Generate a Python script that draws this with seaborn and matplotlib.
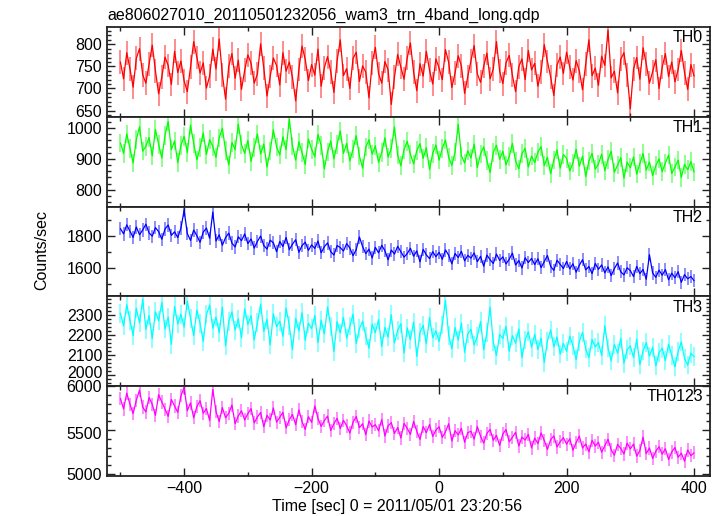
import numpy as np
import pandas as pd
import matplotlib
matplotlib.use("Agg")
import matplotlib.pyplot as plt
from matplotlib.ticker import MultipleLocator
from matplotlib.transforms import ScaledTranslation
import seaborn as sns

# Time bins (5 s) relative to 2011/05/01 23:20:56
time_sec = np.arange(-500, 405, 5)

# Light curves (counts/sec)
th0 = [760, 722, 781, 745, 703, 768, 790, 731, 712, 755,
       798, 740, 688, 726, 771, 752, 709, 784, 736, 762,
       717, 693, 748, 806, 770, 735, 758, 701, 728, 789,
       744, 812, 731, 676, 750, 779, 723, 764, 698, 741,
       776, 757, 712, 733, 801, 746, 683, 727, 769, 752,
       708, 781, 739, 760, 725, 672, 743, 796, 766, 718,
       754, 730, 789, 705, 747, 772, 738, 691, 763, 810,
       729, 745, 700, 768, 782, 716, 751, 737, 679, 758,
       793, 734, 712, 761, 742, 664, 726, 777, 748, 721,
       769, 803, 737, 695, 756, 728, 784, 741, 710, 767,
       746, 720, 788, 759, 702, 735, 774, 751, 689, 727,
       763, 797, 733, 714, 750, 780, 722, 744, 806, 739,
       711, 758, 775, 730, 693, 749, 767, 720, 786, 742,
       757, 705, 738, 799, 761, 726, 684, 753, 771, 734,
       782, 748, 719, 763, 740, 697, 755, 810, 729, 746,
       707, 773, 752, 832, 724, 739, 690, 766, 781, 731,
       654, 744, 770, 721, 792, 756, 712, 738, 765, 700,
       748, 779, 727, 760, 715, 743, 786, 736, 698, 754,
       728]
th1 = [952, 918, 981, 934, 887, 962, 1004, 925, 941, 969,
       910, 995, 947, 903, 976, 1021, 930, 958, 888, 944,
       973, 921, 1009, 950, 897, 936, 984, 914, 962, 940,
       905, 968, 999, 927, 881, 953, 930, 1012, 946, 918,
       960, 892, 937, 981, 916, 948, 874, 925, 994, 939,
       913, 971, 930, 1028, 942, 896, 955, 920, 882, 964,
       931, 907, 979, 944, 868, 923, 958, 900, 947, 990,
       918, 950, 893, 932, 975, 909, 870, 938, 962, 915,
       942, 889, 921, 968, 906, 934, 1003, 912, 878, 930,
       957, 915, 884, 927, 949, 902, 936, 866, 918, 945,
       896, 934, 961, 905, 879, 922, 1012, 910, 887, 926,
       903, 948, 872, 916, 939, 895, 856, 921, 944, 899,
       925, 881, 907, 950, 893, 868, 917, 934, 874, 909,
       888, 922, 940, 879, 905, 852, 896, 929, 870, 914,
       902, 861, 887, 931, 876, 909, 843, 893, 918, 867,
       884, 915, 862, 898, 925, 857, 880, 904, 838, 889,
       872, 906, 851, 885, 917, 864, 890, 846, 878, 900,
       859, 887, 912, 853, 874, 896, 840, 882, 865, 891,
       858]
th2 = [1845, 1812, 1868, 1829, 1790, 1855, 1807, 1836, 1872, 1818,
       1798, 1851, 1826, 1779, 1842, 1867, 1803, 1825, 1789, 1848,
       1958, 1814, 1772, 1836, 1801, 1760, 1823, 1848, 1785, 1947,
       1768, 1806, 1742, 1789, 1817, 1755, 1731, 1794, 1770, 1812,
       1752, 1781, 1724, 1766, 1799, 1740, 1718, 1773, 1757, 1702,
       1765, 1734, 1790, 1715, 1748, 1776, 1698, 1739, 1761, 1710,
       1744, 1722, 1768, 1695, 1733, 1756, 1702, 1681, 1740, 1727,
       1706, 1752, 1724, 1677, 1715, 1793, 1733, 1690, 1718, 1663,
       1729, 1695, 1741, 1708, 1652, 1712, 1687, 1735, 1701, 1668,
       1690, 1723, 1674, 1707, 1639, 1716, 1682, 1659, 1702, 1671,
       1698, 1655, 1713, 1680, 1627, 1691, 1666, 1704, 1645, 1679,
       1662, 1694, 1640, 1673, 1612, 1681, 1652, 1629, 1687, 1648,
       1670, 1626, 1655, 1693, 1619, 1647, 1601, 1664, 1635, 1660,
       1622, 1658, 1603, 1640, 1678, 1611, 1586, 1649, 1624, 1598,
       1641, 1596, 1627, 1575, 1618, 1652, 1589, 1610, 1566, 1629,
       1593, 1620, 1571, 1608, 1554, 1597, 1632, 1577, 1558, 1602,
       1585, 1548, 1611, 1566, 1592, 1531, 1683, 1570, 1543, 1588,
       1556, 1591, 1528, 1569, 1540, 1578, 1512, 1560, 1534, 1548,
       1522]
th3 = [2310, 2246, 2352, 2275, 2198, 2334, 2261, 2380, 2229, 2298,
       2183, 2317, 2272, 2364, 2231, 2290, 2154, 2343, 2256, 2305,
       2240, 2371, 2283, 2197, 2326, 2258, 2169, 2302, 2350, 2234,
       2291, 2212, 2340, 2147, 2268, 2316, 2225, 2281, 2187, 2332,
       2254, 2298, 2176, 2263, 2355, 2219, 2280, 2151, 2307, 2242,
       2270, 2193, 2336, 2248, 2127, 2284, 2221, 2312, 2174, 2259,
       2233, 2298, 2162, 2275, 2206, 2341, 2244, 2118, 2268, 2211,
       2289, 2185, 2246, 2305, 2158, 2232, 2270, 2196, 2134, 2255,
       2212, 2278, 2143, 2239, 2190, 2302, 2161, 2224, 2257, 2110,
       2236, 2178, 2265, 2093, 2214, 2249, 2156, 2288, 2187, 2221,
       2168, 2251, 2375, 2199, 2132, 2238, 2176, 2260, 2114, 2207,
       2229, 2151, 2193, 2268, 2127, 2214, 2340, 2166, 2098, 2203,
       2183, 2244, 2119, 2197, 2160, 2231, 2088, 2175, 2216, 2139,
       2204, 2128, 2185, 2063, 2171, 2226, 2142, 2190, 2105, 2158,
       2119, 2195, 2147, 2076, 2169, 2213, 2130, 2087, 2178, 2141,
       2162, 2098, 2247, 2136, 2071, 2153, 2109, 2184, 2059, 2127,
       2145, 2088, 2179, 2053, 2120, 2162, 2094, 2139, 2046, 2112,
       2134, 2072, 2155, 2099, 2041, 2118, 2166, 2083, 2050, 2109,
       2092]
th0123 = [5860, 5742, 5921, 5795, 5688, 5840, 5955, 5762, 5706, 5871,
          5794, 5668, 5903, 5820, 5735, 5657, 5848, 5776, 5702, 5892,
          5985, 5721, 5810, 5640, 5768, 5834, 5692, 5745, 5610, 5962,
          5712, 5598, 5756, 5640, 5691, 5785, 5573, 5662, 5720, 5615,
          5688, 5744, 5582, 5650, 5701, 5538, 5669, 5614, 5752, 5590,
          5647, 5702, 5526, 5618, 5679, 5561, 5731, 5596, 5508, 5652,
          5589, 5776, 5631, 5542, 5608, 5660, 5495, 5573, 5634, 5519,
          5612, 5548, 5466, 5590, 5655, 5527, 5572, 5448, 5603, 5536,
          5561, 5492, 5620, 5433, 5548, 5585, 5462, 5530, 5410, 5576,
          5519, 5452, 5598, 5486, 5395, 5540, 5471, 5563, 5428, 5501,
          5538, 5416, 5480, 5572, 5376, 5493, 5445, 5519, 5362, 5470,
          5487, 5398, 5539, 5430, 5351, 5462, 5508, 5384, 5440, 5325,
          5455, 5506, 5367, 5418, 5474, 5318, 5421, 5386, 5452, 5297,
          5409, 5346, 5468, 5382, 5280, 5391, 5433, 5307, 5368, 5414,
          5339, 5402, 5271, 5358, 5431, 5296, 5342, 5252, 5384, 5318,
          5361, 5248, 5323, 5396, 5275, 5214, 5337, 5290, 5228, 5352,
          5285, 5341, 5203, 5267, 5420, 5232, 5296, 5178, 5259, 5310,
          5226, 5288, 5165, 5251, 5302, 5190, 5237, 5146, 5273, 5208,
          5242]

bands = ["TH0", "TH1", "TH2", "TH3", "TH0123"]
series = [th0, th1, th2, th3, th0123]
# 1-sigma error bar half-length for each band
errors = [27, 30, 41, 47, 76]

colors = ["#ff0000", "#00ff00", "#0000ff", "#00ffff", "#ff00ff"]
ylims = [(636, 839), (746, 1036), (1425, 1981), (1944, 2394), (4977, 6000)]
major = [50, 100, 200, 100, 500]
minor = [10, 20, 100, 20, 100]

sns.set_style("ticks")
plt.rcParams['font.family'] = ['Liberation Sans', 'DejaVu Sans']
plt.rcParams['font.size'] = 11.5
plt.rcParams['text.color'] = 'black'
plt.rcParams['xtick.labelcolor'] = 'black'
plt.rcParams['ytick.labelcolor'] = 'black'

fig = plt.figure(figsize=(7.19, 5.16), dpi=100)

left, right = 107 / 719, 710 / 719
top_px, bot_px = 27, 476
h_px = (bot_px - top_px) / 5

axes = []
for i, (name, vals) in enumerate(zip(bands, series)):
    y0 = 1 - (top_px + (i + 1) * h_px) / 516
    ax = fig.add_axes([left, y0, right - left, h_px / 516])
    df = pd.DataFrame({"time": time_sec, "rate": vals})
    ax.errorbar(df["time"], df["rate"], yerr=errors[i], fmt="none",
                ecolor=colors[i], alpha=0.45, elinewidth=1.4)
    sns.lineplot(data=df, x="time", y="rate", ax=ax, color=colors[i],
                 lw=0.9, estimator=None, sort=False)
    ax.set_xlim(-521, 425)
    ax.set_ylim(*ylims[i])
    ax.set_xlabel("")
    ax.set_ylabel("")
    ax.xaxis.set_major_locator(MultipleLocator(200))
    ax.xaxis.set_minor_locator(MultipleLocator(100))
    ax.yaxis.set_major_locator(MultipleLocator(major[i]))
    ax.yaxis.set_minor_locator(MultipleLocator(minor[i]))
    ax.tick_params(which="both", direction="in", top=True, right=True,
                   color="#222222", width=1, labelcolor="black")
    ax.tick_params(which="major", length=6, labelsize=11.5)
    ax.tick_params(which="minor", length=3)
    if i < 4:
        ax.tick_params(labelbottom=False)
    for s in ax.spines.values():
        s.set_linewidth(1.3)
        s.set_color("#222222")
    ax.text(0.988, 0.965, name, transform=ax.transAxes, ha="right", va="top",
            fontsize=11.5, color="black")
    axes.append(ax)

# the 2000 and 6000 labels sit right next to each other; nudge them apart
for tick in axes[3].yaxis.get_major_ticks():
    if abs(tick.get_loc() - 2000) < 1:
        tick.label1.set_transform(tick.label1.get_transform() +
                                  ScaledTranslation(0, 2 / 72, fig.dpi_scale_trans))
for tick in axes[4].yaxis.get_major_ticks():
    if abs(tick.get_loc() - 6000) < 1:
        tick.label1.set_transform(tick.label1.get_transform() +
                                  ScaledTranslation(0, -2 / 72, fig.dpi_scale_trans))

fig.text(107 / 719, 1 - 15 / 516, "ae806027010_20110501232056_wam3_trn_4band_long.qdp",
         ha="left", va="center", fontsize=11.5)
fig.text(42 / 719, 1 - 250 / 516, "Counts/sec", rotation=90, ha="center",
         va="center", fontsize=11.5)
fig.text(397 / 719, 1 - 507 / 516, "Time [sec] 0 = 2011/05/01 23:20:56",
         ha="center", va="center", fontsize=11.5)

fig.savefig("out.png", dpi=100)
